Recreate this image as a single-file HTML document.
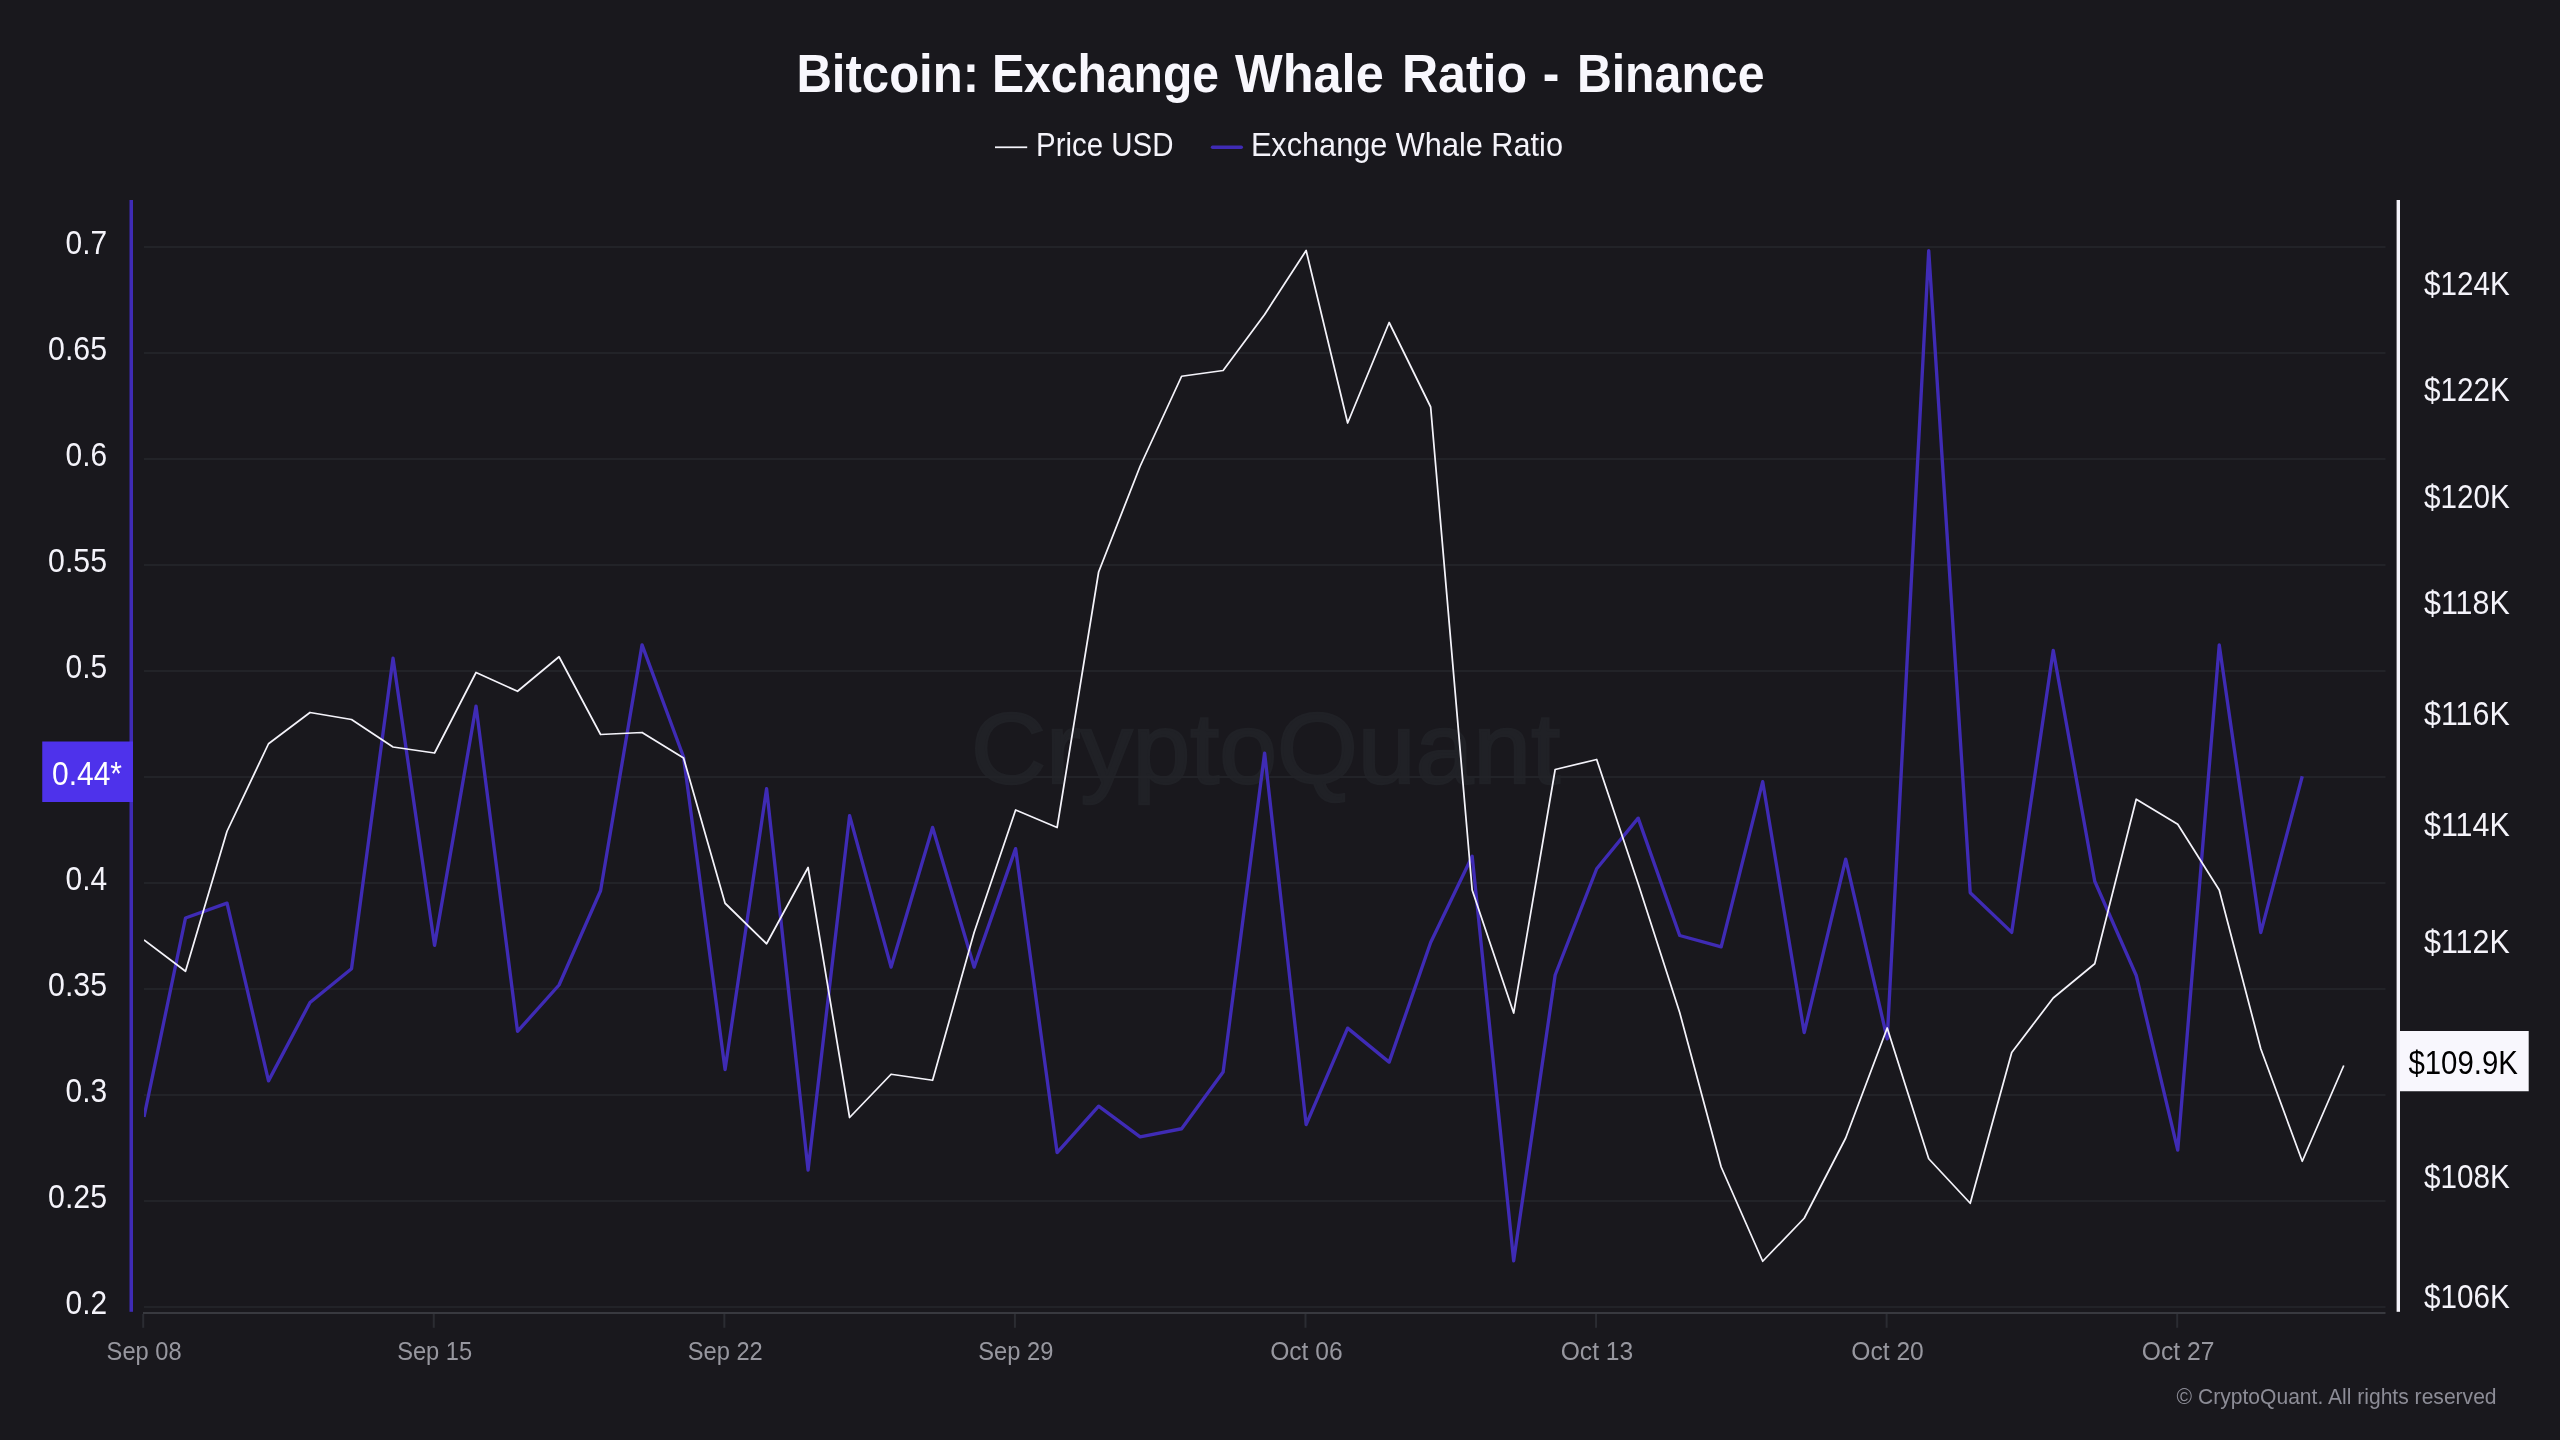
<!DOCTYPE html>
<html lang="en"><head><meta charset="utf-8"><title>Bitcoin: Exchange Whale Ratio - Binance</title>
<style>html,body{margin:0;padding:0;background:#19181d;}body{width:2560px;height:1440px;overflow:hidden;}svg{display:block;will-change:transform;}text{font-family:"Liberation Sans",sans-serif;}</style></head><body>
<svg width="2560" height="1440" viewBox="0 0 2560 1440">
<rect x="0" y="0" width="2560" height="1440" fill="#19181d"/>
<text x="971" y="783" font-size="100" fill="#202126" stroke="#202126" stroke-width="2.5" textLength="589" lengthAdjust="spacingAndGlyphs">CryptoQuant</text>
<rect x="144" y="246.00" width="2241.5" height="2" fill="#222328"/>
<rect x="144" y="352.00" width="2241.5" height="2" fill="#222328"/>
<rect x="144" y="458.00" width="2241.5" height="2" fill="#222328"/>
<rect x="144" y="564.00" width="2241.5" height="2" fill="#222328"/>
<rect x="144" y="670.00" width="2241.5" height="2" fill="#222328"/>
<rect x="144" y="776.00" width="2241.5" height="2" fill="#222328"/>
<rect x="144" y="882.00" width="2241.5" height="2" fill="#222328"/>
<rect x="144" y="988.00" width="2241.5" height="2" fill="#222328"/>
<rect x="144" y="1094.00" width="2241.5" height="2" fill="#222328"/>
<rect x="144" y="1200.00" width="2241.5" height="2" fill="#222328"/>
<rect x="144" y="1306.00" width="2241.5" height="2" fill="#222328"/>
<rect x="143" y="1312" width="2242.5" height="2" fill="#38393f"/>
<rect x="142.20" y="1314" width="2" height="13.8" fill="#2b2c32"/>
<text x="106.60" y="1360" font-size="26" fill="#97979f" textLength="75.0" lengthAdjust="spacingAndGlyphs">Sep 08</text>
<rect x="432.77" y="1314" width="2" height="13.8" fill="#2b2c32"/>
<text x="397.17" y="1360" font-size="26" fill="#97979f" textLength="75.0" lengthAdjust="spacingAndGlyphs">Sep 15</text>
<rect x="723.34" y="1314" width="2" height="13.8" fill="#2b2c32"/>
<text x="687.74" y="1360" font-size="26" fill="#97979f" textLength="75.0" lengthAdjust="spacingAndGlyphs">Sep 22</text>
<rect x="1013.91" y="1314" width="2" height="13.8" fill="#2b2c32"/>
<text x="978.31" y="1360" font-size="26" fill="#97979f" textLength="75.0" lengthAdjust="spacingAndGlyphs">Sep 29</text>
<rect x="1304.48" y="1314" width="2" height="13.8" fill="#2b2c32"/>
<text x="1270.13" y="1360" font-size="26" fill="#97979f" textLength="72.5" lengthAdjust="spacingAndGlyphs">Oct 06</text>
<rect x="1595.05" y="1314" width="2" height="13.8" fill="#2b2c32"/>
<text x="1560.70" y="1360" font-size="26" fill="#97979f" textLength="72.5" lengthAdjust="spacingAndGlyphs">Oct 13</text>
<rect x="1885.62" y="1314" width="2" height="13.8" fill="#2b2c32"/>
<text x="1851.27" y="1360" font-size="26" fill="#97979f" textLength="72.5" lengthAdjust="spacingAndGlyphs">Oct 20</text>
<rect x="2176.19" y="1314" width="2" height="13.8" fill="#2b2c32"/>
<text x="2141.84" y="1360" font-size="26" fill="#97979f" textLength="72.5" lengthAdjust="spacingAndGlyphs">Oct 27</text>
<text x="65.50" y="254.30" font-size="33.3" fill="#f4f3fa" textLength="41.6" lengthAdjust="spacingAndGlyphs">0.7</text>
<text x="48.10" y="360.30" font-size="33.3" fill="#f4f3fa" textLength="59.0" lengthAdjust="spacingAndGlyphs">0.65</text>
<text x="65.50" y="466.30" font-size="33.3" fill="#f4f3fa" textLength="41.6" lengthAdjust="spacingAndGlyphs">0.6</text>
<text x="48.10" y="572.30" font-size="33.3" fill="#f4f3fa" textLength="59.0" lengthAdjust="spacingAndGlyphs">0.55</text>
<text x="65.50" y="678.30" font-size="33.3" fill="#f4f3fa" textLength="41.6" lengthAdjust="spacingAndGlyphs">0.5</text>
<text x="65.50" y="890.30" font-size="33.3" fill="#f4f3fa" textLength="41.6" lengthAdjust="spacingAndGlyphs">0.4</text>
<text x="48.10" y="996.30" font-size="33.3" fill="#f4f3fa" textLength="59.0" lengthAdjust="spacingAndGlyphs">0.35</text>
<text x="65.50" y="1102.30" font-size="33.3" fill="#f4f3fa" textLength="41.6" lengthAdjust="spacingAndGlyphs">0.3</text>
<text x="48.10" y="1208.30" font-size="33.3" fill="#f4f3fa" textLength="59.0" lengthAdjust="spacingAndGlyphs">0.25</text>
<text x="65.50" y="1314.30" font-size="33.3" fill="#f4f3fa" textLength="41.6" lengthAdjust="spacingAndGlyphs">0.2</text>
<text x="2424" y="295.00" font-size="33.3" fill="#f4f3fa" textLength="85.7" lengthAdjust="spacingAndGlyphs">$124K</text>
<text x="2424" y="401.00" font-size="33.3" fill="#f4f3fa" textLength="85.7" lengthAdjust="spacingAndGlyphs">$122K</text>
<text x="2424" y="507.50" font-size="33.3" fill="#f4f3fa" textLength="85.7" lengthAdjust="spacingAndGlyphs">$120K</text>
<text x="2424" y="614.00" font-size="33.3" fill="#f4f3fa" textLength="85.7" lengthAdjust="spacingAndGlyphs">$118K</text>
<text x="2424" y="724.50" font-size="33.3" fill="#f4f3fa" textLength="85.7" lengthAdjust="spacingAndGlyphs">$116K</text>
<text x="2424" y="836.00" font-size="33.3" fill="#f4f3fa" textLength="85.7" lengthAdjust="spacingAndGlyphs">$114K</text>
<text x="2424" y="952.50" font-size="33.3" fill="#f4f3fa" textLength="85.7" lengthAdjust="spacingAndGlyphs">$112K</text>
<text x="2424" y="1187.50" font-size="33.3" fill="#f4f3fa" textLength="85.7" lengthAdjust="spacingAndGlyphs">$108K</text>
<text x="2424" y="1308.00" font-size="33.3" fill="#f4f3fa" textLength="85.7" lengthAdjust="spacingAndGlyphs">$106K</text>
<clipPath id="c"><rect x="144" y="200" width="2242" height="1112"/></clipPath>
<g clip-path="url(#c)" fill="none" stroke-linejoin="round">
<path d="M144.00,1117.00 L185.50,918.00 L227.01,903.15 L268.51,1080.85 L310.02,1002.50 L351.52,968.75 L393.03,658.15 L434.54,945.35 L476.04,706.15 L517.55,1031.35 L559.05,985.00 L600.56,890.75 L642.06,644.90 L683.57,757.00 L725.07,1069.60 L766.58,788.65 L808.08,1170.10 L849.59,815.65 L891.09,967.10 L932.60,827.40 L974.10,967.10 L1015.61,848.65 L1057.11,1152.60 L1098.62,1106.15 L1140.12,1136.85 L1181.62,1128.75 L1223.13,1072.00 L1264.63,753.15 L1306.14,1124.60 L1347.64,1028.15 L1389.15,1062.10 L1430.65,942.50 L1472.16,856.15 L1513.67,1260.85 L1555.17,975.00 L1596.68,868.75 L1638.18,818.15 L1679.69,935.50 L1721.19,946.85 L1762.70,781.65 L1804.20,1032.60 L1845.71,859.15 L1887.21,1038.85 L1928.72,250.65 L1970.22,892.75 L2011.73,932.35 L2053.23,650.40 L2094.74,881.25 L2136.24,975.50 L2177.74,1150.10 L2219.25,644.90 L2260.76,932.60 L2302.26,776.25" stroke="#3f2bb5" stroke-width="3.35"/>
<path d="M144.00,940.00 L185.50,971.25 L227.01,831.25 L268.51,743.75 L310.02,712.50 L351.52,719.50 L393.03,747.00 L434.54,753.00 L476.04,672.50 L517.55,691.25 L559.05,656.75 L600.56,734.50 L642.06,732.50 L683.57,758.00 L725.07,903.25 L766.58,943.75 L808.08,867.50 L849.59,1117.50 L891.09,1074.25 L932.60,1080.25 L974.10,932.50 L1015.61,810.00 L1057.11,827.50 L1098.62,572.00 L1140.12,466.25 L1181.62,376.25 L1223.13,370.50 L1264.63,314.50 L1306.14,250.50 L1347.64,423.00 L1389.15,322.50 L1430.65,407.00 L1472.16,890.00 L1513.67,1013.00 L1555.17,769.50 L1596.68,759.50 L1638.18,883.75 L1679.69,1012.50 L1721.19,1167.00 L1762.70,1261.25 L1804.20,1218.25 L1845.71,1138.00 L1887.21,1028.00 L1928.72,1158.75 L1970.22,1203.25 L2011.73,1052.50 L2053.23,998.00 L2094.74,963.75 L2136.24,799.25 L2177.74,824.25 L2219.25,890.00 L2260.76,1048.75 L2302.26,1161.25 L2343.77,1065.50" stroke="#f4f3fa" stroke-width="1.75"/>
</g>
<rect x="129.5" y="200" width="3.5" height="1111.8" fill="#3f2bb5"/>
<rect x="2396.6" y="200" width="3.4" height="1111.8" fill="#f4f3fa"/>
<rect x="42.25" y="741.5" width="90.75" height="60.5" fill="#4e32eb"/>
<text x="52" y="785" font-size="33.3" fill="#ffffff" textLength="70" lengthAdjust="spacingAndGlyphs">0.44*</text>
<rect x="2400" y="1031" width="128.7" height="60.25" fill="#f8f7fd"/>
<text x="2408.4" y="1073.7" font-size="33.3" fill="#000000" textLength="109.5" lengthAdjust="spacingAndGlyphs">$109.9K</text>
<text x="796.40" y="91.7" font-size="53" font-weight="bold" fill="#f8f7fd" textLength="182.70" lengthAdjust="spacingAndGlyphs">Bitcoin:</text>
<text x="991.90" y="91.7" font-size="53" font-weight="bold" fill="#f8f7fd" textLength="227.10" lengthAdjust="spacingAndGlyphs">Exchange</text>
<text x="1235.00" y="91.7" font-size="53" font-weight="bold" fill="#f8f7fd" textLength="148.75" lengthAdjust="spacingAndGlyphs">Whale</text>
<text x="1401.90" y="91.7" font-size="53" font-weight="bold" fill="#f8f7fd" textLength="125.20" lengthAdjust="spacingAndGlyphs">Ratio</text>
<text x="1542.70" y="91.7" font-size="53" font-weight="bold" fill="#f8f7fd" textLength="16.60" lengthAdjust="spacingAndGlyphs">-</text>
<text x="1576.90" y="91.7" font-size="53" font-weight="bold" fill="#f8f7fd" textLength="187.60" lengthAdjust="spacingAndGlyphs">Binance</text>
<rect x="995" y="146.4" width="32.2" height="1.75" fill="#f4f3fa"/>
<text x="1036" y="155.6" font-size="33.5" fill="#f4f3fa" textLength="137.5" lengthAdjust="spacingAndGlyphs">Price USD</text>
<rect x="1210.8" y="145.55" width="32.2" height="3.4" rx="1.7" fill="#3f2bb5"/>
<text x="1250.9" y="155.6" font-size="33.5" fill="#f4f3fa" textLength="312.1" lengthAdjust="spacingAndGlyphs">Exchange Whale Ratio</text>
<text x="2176.6" y="1404" font-size="22.6" fill="#8c8c96" textLength="320" lengthAdjust="spacingAndGlyphs">© CryptoQuant. All rights reserved</text>
</svg></body></html>
